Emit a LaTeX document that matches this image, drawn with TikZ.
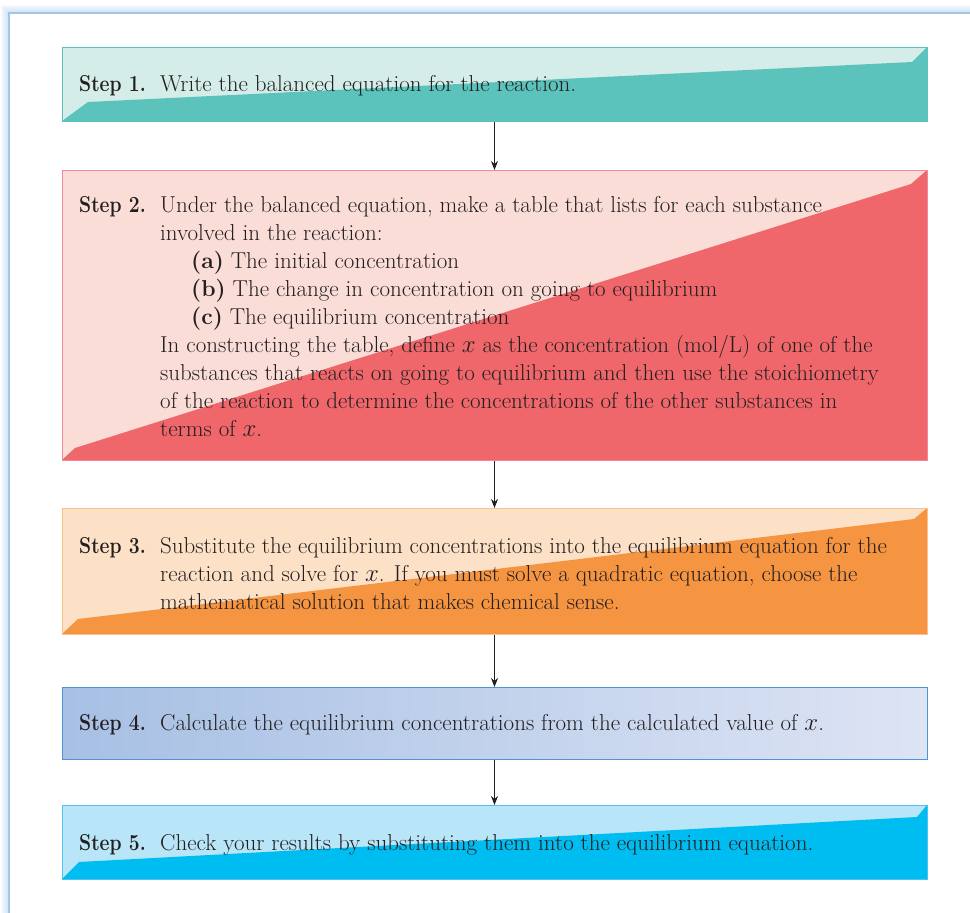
\documentclass[tikz,border=0pt]{standalone}
\usepackage{graphicx}
\usetikzlibrary{positioning,arrows.meta}

\definecolor{textgray}{HTML}{231F20}
\definecolor{framecol}{HTML}{A3C6E8}
\definecolor{teallight}{HTML}{D4EDE8}
\definecolor{tealdark}{HTML}{5BC3BC}
\definecolor{pinklight}{HTML}{FBDDD8}
\definecolor{pinkdark}{HTML}{F0676B}
\definecolor{pinkline}{HTML}{F4869A}
\definecolor{orangelight}{HTML}{FDE1C7}
\definecolor{orangedark}{HTML}{F69541}
\definecolor{orangeline}{HTML}{FBC08C}
\definecolor{bluelight}{HTML}{DDE4F4}
\definecolor{bluedark}{HTML}{A7C0E4}
\definecolor{blueline}{HTML}{4F94D9}
\definecolor{cyanlight}{HTML}{B9E5F8}
\definecolor{cyandark}{HTML}{00BDF1}
\definecolor{cyanline}{HTML}{4CC2EE}

\newcommand{\stepfont}{\fontsize{23}{28}\selectfont}
\newcommand{\steptag}[1]{\scalebox{0.84}[1]{#1}}

\tikzset{
  stepbox/.style={draw=#1, line width=1pt, minimum width=865pt, inner sep=0pt, anchor=north},
  steplabel/.style={font=\stepfont\bfseries, anchor=base west, inner sep=0pt, text=textgray},
  steptext/.style={font=\stepfont, align=left, anchor=north west, inner sep=0pt, text=textgray},
  flow/.style={-{Stealth[length=9pt,width=7pt]}, line width=1pt, draw=textgray},
}

\begin{document}
\begin{tikzpicture}[x=1pt,y=-1pt]
\useasboundingbox (0,0) rectangle (970,913);

% frame with soft shadow
\foreach \i in {1,...,8}
  \draw[framecol, opacity=0.08, line width=2*\i pt] (9,13) rectangle (990,930);
\fill[white] (9,13) rectangle (990,930);
\draw[framecol, line width=1.5pt] (9,13) rectangle (990,930);

% Step 1
\fill[teallight] (62,47) rectangle (927,121);
\fill[tealdark] (62,121) -- (88,102) -- (912,62) -- (927,47) -- (927,121) -- cycle;
\node[stepbox=tealdark, minimum height=74pt] (s1) at (494.5,47) {};
\node[steplabel] (l1) at (79,91) {\steptag{Step 1.}};
\node[steptext] (t1) at (160,91-19.6) {\strut Write the balanced equation for the reaction.};

% Step 2
\fill[pinklight] (62,170) rectangle (927,460);
\fill[pinkdark] (62,460) -- (75,448) -- (911,184) -- (927,170) -- (927,460) -- cycle;
\node[stepbox=pinkline, minimum height=290pt] (s2) at (494.5,170) {};
\node[steplabel] (l2) at (79,212) {\steptag{Step 2.}};
\node[steptext] (t2) at (160,212-19.6) {\strut Under the balanced equation, make a table that lists for each substance\\
  involved in the reaction:\\
  \hspace*{31pt}\textbf{(a)} The initial concentration\\
  \hspace*{31pt}\textbf{(b)} The change in concentration on going to equilibrium\\
  \hspace*{31pt}\textbf{(c)} The equilibrium concentration\\
  In constructing the table, define $x$ as the concentration (mol/L) of one of the\\
  substances that reacts on going to equilibrium and then use the stoichiometry\\
  of the reaction to determine the concentrations of the other substances in\\
  terms of $x$.};

% Step 3
\fill[orangelight] (62,508) rectangle (927,634);
\fill[orangedark] (62,634) -- (78,619) -- (914,519) -- (927,508) -- (927,634) -- cycle;
\node[stepbox=orangeline, minimum height=126pt] (s3) at (494.5,508) {};
\node[steplabel] (l3) at (79,553) {\steptag{Step 3.}};
\node[steptext] (t3) at (160,553-19.6) {\strut Substitute the equilibrium concentrations into the equilibrium equation for the\\
  reaction and solve for $x$. If you must solve a quadratic equation, choose the\\
  mathematical solution that makes chemical sense.};

% Step 4
\shade[left color=bluedark, right color=bluelight] (62,687) rectangle (927,759);
\node[stepbox=blueline, minimum height=72pt] (s4) at (494.5,687) {};
\node[steplabel] (l4) at (79,730) {\steptag{Step 4.}};
\node[steptext] (t4) at (160,730-19.6) {\strut Calculate the equilibrium concentrations from the calculated value of $x$.};

% Step 5
\fill[cyanlight] (62,805) rectangle (927,879);
\fill[cyandark] (62,879) -- (79,862) -- (917,817) -- (927,805) -- (927,879) -- cycle;
\node[stepbox=cyanline, minimum height=74pt] (s5) at (494.5,805) {};
\node[steplabel] (l5) at (79,850) {\steptag{Step 5.}};
\node[steptext] (t5) at (160,850-19.6) {\strut Check your results by substituting them into the equilibrium equation.};

% arrows
\draw[flow] (s1.south) -- (s2.north);
\draw[flow] (s2.south) -- (s3.north);
\draw[flow] (s3.south) -- (s4.north);
\draw[flow] (s4.south) -- (s5.north);
\end{tikzpicture}
\end{document}
